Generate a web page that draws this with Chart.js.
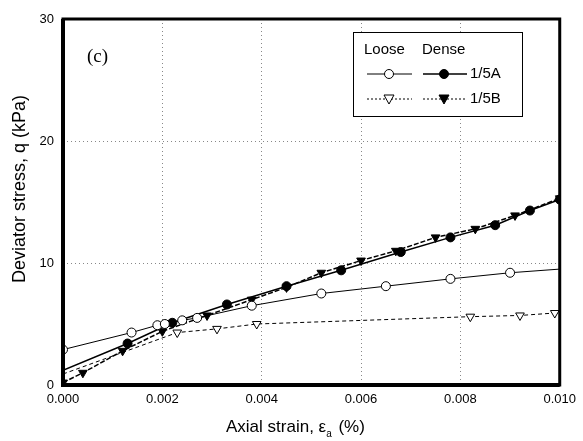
<!DOCTYPE html>
<html lang="en">
<head>
<meta charset="UTF-8">
<title>Deviator stress vs axial strain</title>
<script src="https://cdn.jsdelivr.net/npm/chart.js"></script>
<style>
    body { margin: 0; background: #fff; }
    #wrap { width: 583px; height: 441px; }
</style>
</head>
<body>
<div id="wrap"><canvas id="chart" width="583" height="441"></canvas></div>
<script>
// axial strain (%) and deviator stress q (kPa)
const looseA_x = [0.0000, 0.00138, 0.0019, 0.00205, 0.0024, 0.0027, 0.0038, 0.0052, 0.0065, 0.0078, 0.0090, 0.0100];
const looseA_y = [2.9, 4.3, 4.9, 5.0, 5.3, 5.5, 6.5, 7.5, 8.1, 8.7, 9.2, 9.5];

const denseA_x = [0.0000, 0.0013, 0.0022, 0.0033, 0.0045, 0.0056, 0.0068, 0.0078, 0.0087, 0.0094, 0.0100];
const denseA_y = [1.2, 3.4, 5.1, 6.6, 8.1, 9.4, 10.9, 12.1, 13.1, 14.3, 15.2];

const looseB_x = [0.0000, 0.0023, 0.0031, 0.0039, 0.0082, 0.0092, 0.0099];
const looseB_y = [0.9, 4.3, 4.6, 5.0, 5.6, 5.7, 5.9];

const denseB_x = [0.0000, 0.0004, 0.0012, 0.0020, 0.0029, 0.0038, 0.0045, 0.0052, 0.0060, 0.0067, 0.0075, 0.0083, 0.0091, 0.0100];
const denseB_y = [0.2, 1.0, 2.8, 4.4, 5.7, 7.0, 8.0, 9.2, 10.2, 11.0, 12.1, 12.8, 13.9, 15.3];

const xTicks = [0, 0.002, 0.004, 0.006, 0.008, 0.010];
const yTicks = [0, 10, 20, 30];

function pts(xs, ys) {
    return xs.map((x, i) => ({ x: x, y: ys[i] }));
}
// hide the marker on end points that carry no symbol in the figure
function radii(n, r, hideFirst, hideLast) {
    const a = new Array(n).fill(r);
    if (hideFirst) a[0] = 0;
    if (hideLast) a[n - 1] = 0;
    return a;
}

const FONT = '"Liberation Sans", Arial, sans-serif';

const decorations = {
    id: 'decorations',
    afterDraw(chart) {
        const ctx = chart.ctx;
        const a = chart.chartArea;
        ctx.save();

        // heavy frame round the plot
        ctx.strokeStyle = '#000';
        ctx.lineWidth = 3;
        ctx.strokeRect(a.left, a.top, a.right - a.left, a.bottom - a.top);
        ctx.lineWidth = 4;
        ctx.beginPath();
        ctx.moveTo(a.left, a.top);
        ctx.lineTo(a.left, a.bottom);
        ctx.lineTo(a.right, a.bottom);
        ctx.stroke();

        // panel label
        ctx.fillStyle = '#000';
        ctx.font = '19px "Liberation Serif", "Times New Roman", serif';
        ctx.textAlign = 'left';
        ctx.textBaseline = 'middle';
        ctx.fillText('(c)', 87, 57);

        // y title
        ctx.save();
        ctx.translate(20, 189);
        ctx.rotate(-Math.PI / 2);
        ctx.font = '18px ' + FONT;
        ctx.textAlign = 'center';
        ctx.textBaseline = 'middle';
        ctx.fillText('Deviator stress, q (kPa)', 0, 0);
        ctx.restore();

        // x title with subscript
        ctx.font = '17px ' + FONT;
        ctx.textAlign = 'left';
        ctx.textBaseline = 'alphabetic';
        let x = 226;
        const base = 432;
        const t1 = 'Axial strain, \u03b5';
        ctx.fillText(t1, x, base);
        x += ctx.measureText(t1).width;
        ctx.font = '10px ' + FONT;
        ctx.fillText('a', x, base + 5);
        x += ctx.measureText('a').width + 2;
        ctx.font = '17px ' + FONT;
        ctx.fillText(' (%)', x, base);

        // legend box
        ctx.fillStyle = '#fff';
        ctx.fillRect(353, 32, 169, 84);
        ctx.strokeStyle = '#000';
        ctx.lineWidth = 1;
        ctx.strokeRect(353.5, 32.5, 169, 84);
        ctx.fillStyle = '#000';
        ctx.font = '15px ' + FONT;
        ctx.textBaseline = 'middle';
        ctx.fillText('Loose', 364, 50);
        ctx.fillText('Dense', 422, 50);
        ctx.fillText('1/5A', 470, 74);
        ctx.fillText('1/5B', 470, 99);

        function seg(x1, x2, y, dash, w) {
            ctx.beginPath();
            ctx.setLineDash(dash);
            ctx.lineWidth = w;
            ctx.moveTo(x1, y);
            ctx.lineTo(x2, y);
            ctx.stroke();
            ctx.setLineDash([]);
        }
        function circle(cx, cy, filled) {
            ctx.beginPath();
            ctx.arc(cx, cy, 4.5, 0, Math.PI * 2);
            ctx.fillStyle = filled ? '#000' : '#fff';
            ctx.fill();
            ctx.lineWidth = 1;
            ctx.stroke();
        }
        function tri(cx, cy, filled) {
            ctx.beginPath();
            ctx.moveTo(cx - 5, cy - 4);
            ctx.lineTo(cx + 5, cy - 4);
            ctx.lineTo(cx, cy + 5);
            ctx.closePath();
            ctx.fillStyle = filled ? '#000' : '#fff';
            ctx.fill();
            ctx.lineWidth = 1;
            ctx.stroke();
        }
        seg(367, 412, 74, [], 1);
        circle(389, 74, false);
        seg(423, 467, 74, [], 1.5);
        circle(444, 74, true);
        seg(367, 412, 99, [2, 2], 1);
        tri(389, 99, false);
        seg(423, 467, 99, [2, 2], 1);
        tri(444, 99, true);

        ctx.restore();
    }
};

const ctx = document.getElementById('chart').getContext('2d');
new Chart(ctx, {
    type: 'scatter',
    data: {
        datasets: [
            {
                label: 'Loose 1/5A',
                data: pts(looseA_x, looseA_y),
                showLine: true,
                borderColor: '#000',
                borderWidth: 1,
                pointStyle: 'circle',
                pointRadius: radii(looseA_x.length, 4.5, false, true),
                pointBackgroundColor: '#fff',
                pointBorderColor: '#000',
                pointBorderWidth: 1
            },
            {
                label: 'Loose 1/5B',
                data: pts(looseB_x, looseB_y),
                showLine: true,
                borderColor: '#000',
                borderWidth: 1,
                borderDash: [4, 3],
                pointStyle: 'triangle',
                rotation: 180,
                pointRadius: radii(looseB_x.length, 5, true, false),
                pointBackgroundColor: '#fff',
                pointBorderColor: '#000',
                pointBorderWidth: 1
            },
            {
                label: 'Dense 1/5A',
                data: pts(denseA_x, denseA_y),
                showLine: true,
                borderColor: '#000',
                borderWidth: 1.5,
                pointStyle: 'circle',
                pointRadius: radii(denseA_x.length, 4.5, true, false),
                pointBackgroundColor: '#000',
                pointBorderColor: '#000',
                pointBorderWidth: 1
            },
            {
                label: 'Dense 1/5B',
                data: pts(denseB_x, denseB_y),
                showLine: true,
                borderColor: '#000',
                borderWidth: 1.5,
                borderDash: [5, 2],
                pointStyle: 'triangle',
                rotation: 180,
                pointRadius: radii(denseB_x.length, 5, false, false),
                pointBackgroundColor: '#000',
                pointBorderColor: '#000',
                pointBorderWidth: 1
            }
        ]
    },
    options: {
        responsive: false,
        animation: false,
        layout: { padding: { left: 0, top: 19, right: 19, bottom: 0 } },
        plugins: {
            legend: { display: false },
            tooltip: { enabled: false }
        },
        scales: {
            x: {
                type: 'linear',
                min: 0,
                max: 0.01,
                afterFit(scale) { scale.height = 56; },
                afterBuildTicks(scale) { scale.ticks = xTicks.map(v => ({ value: v })); },
                ticks: {
                    color: '#000',
                    font: { family: FONT, size: 13 },
                    padding: 7,
                    maxRotation: 0,
                    callback: v => v.toFixed(3)
                },
                grid: {
                    color: '#888',
                    lineWidth: 1,
                    drawTicks: false
                },
                border: { display: false, dash: [1, 3] }
            },
            y: {
                type: 'linear',
                min: 0,
                max: 30,
                afterFit(scale) { scale.width = 63; },
                afterBuildTicks(scale) { scale.ticks = yTicks.map(v => ({ value: v })); },
                ticks: {
                    color: '#000',
                    font: { family: FONT, size: 13 },
                    padding: 9
                },
                grid: {
                    color: '#888',
                    lineWidth: 1,
                    drawTicks: false
                },
                border: { display: false, dash: [1, 3] }
            }
        }
    },
    plugins: [decorations]
});
</script>
</body>
</html>
